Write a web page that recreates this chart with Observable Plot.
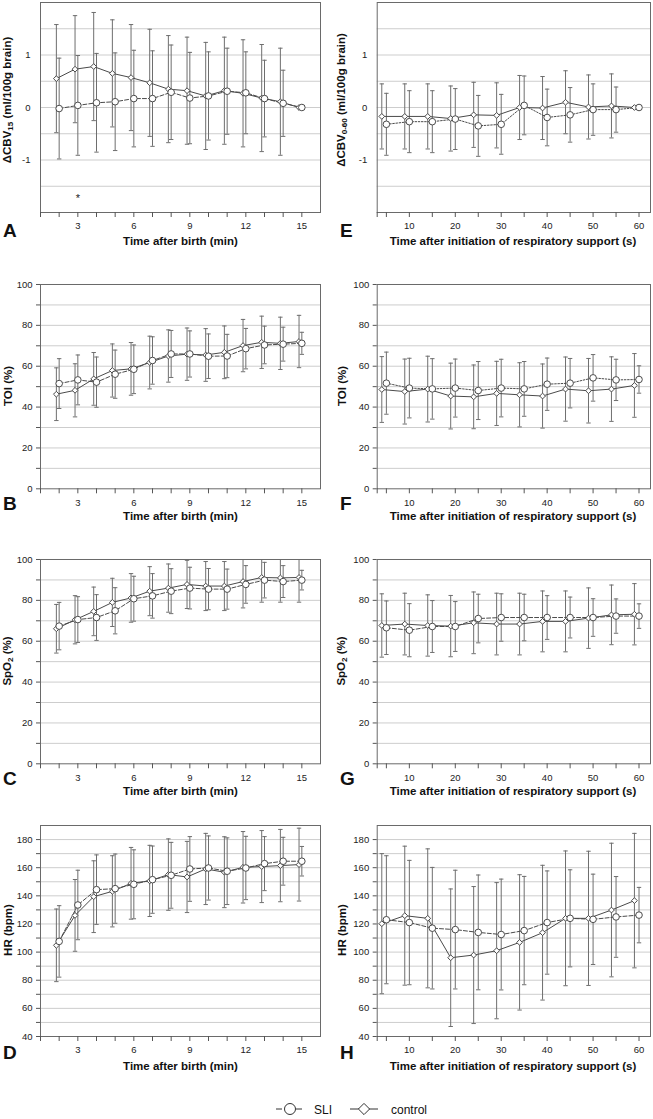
<!DOCTYPE html>
<html><head><meta charset="utf-8">
<script src="https://cdn.jsdelivr.net/npm/d3@7"></script>
<script src="https://cdn.jsdelivr.net/npm/@observablehq/plot@0.6"></script>
<style>
body{margin:0;background:#fff;font-family:"Liberation Sans",Arial,sans-serif;color:#111}
#root{position:relative;width:653px;height:1119px;overflow:hidden;background:#fff}
.panel{position:absolute}
.letter{position:absolute;font-weight:bold;font-size:19px;line-height:1}
.xt{position:absolute;font-weight:bold;font-size:11.5px;white-space:nowrap;transform:translate(-50%,-50%);line-height:1}
.yt{position:absolute;font-weight:bold;font-size:11.5px;white-space:nowrap;transform:translate(-50%,-50%) rotate(-90deg);line-height:1}
.yt sub{font-size:0.7em;vertical-align:-0.25em}
</style></head><body><div id="root"></div><script>
// ---------- data ----------
const minutes = [2,3,4,5,6,7,8,9,10,11,12,13,14,15];
const seconds = [5,10,15,20,25,30,35,40,45,50,55,60];
const minuteTicks = [1,2,3,4,5,6,7,8,9,10,11,12,13,14,15];
const minuteTickLabels = [3,6,9,12,15];
const secondTicks = [3,5,10,15,20,25,30,35,40,45,50,55,60];
const secondTickLabels = [10,20,30,40,50,60];
const cbvTickLabels = [-1,0,1];
const cbvGrid = [-1.5,-1,-0.5,0,0.5,1,1.5];
const pctTicks = [0,10,20,30,40,50,60,70,80,90,100];
const pctTickLabels = [0,20,40,60,80,100];
const pctGrid = [10,20,30,40,50,60,70,80,90];
const hrTicks = [40,50,60,70,80,90,100,110,120,130,140,150,160,170,180];
const hrTickLabels = [40,60,80,100,120,140,160,180];
const hrGrid = [50,60,70,80,90,100,110,120,130,140,150,160,170,180];

// A: ΔCBV15 vs minutes
const cbv15Control   = [0.55,0.73,0.78,0.65,0.57,0.47,0.35,0.32,0.22,0.32,0.27,0.18,0.11,0];
const cbv15ControlSD = [1.03,1.02,1.03,1.02,1.01,1.02,1.02,1.02,1.02,1.02,1.02,1.02,1.02,0];
const cbv15SLI       = [-0.02,0.04,0.09,0.11,0.17,0.17,0.29,0.18,0.22,0.31,0.28,0.17,0.08,0];
const cbv15SLISD     = [0.96,0.95,0.94,0.93,0.92,0.91,0.90,0.87,0.84,0.82,0.78,0.73,0.63,0];
const cbv15Significance = [{t: 3, value: -1.68, mark: "*"}];
// E: ΔCBV0-60 vs seconds
const cbv60Control   = [-0.17,-0.17,-0.17,-0.21,-0.14,-0.15,0.0,-0.01,0.10,0.01,0.03,0];
const cbv60ControlSD = [0.62,0.62,0.62,0.62,0.62,0.62,0.61,0.60,0.60,0.61,0.61,0];
const cbv60SLI       = [-0.32,-0.27,-0.27,-0.22,-0.35,-0.32,0.04,-0.19,-0.14,-0.04,-0.04,0];
const cbv60SLISD     = [0.59,0.59,0.59,0.58,0.58,0.57,0.56,0.54,0.52,0.49,0.43,0];
// B: TOI vs minutes
const toiMinControl   = [46.3,48.2,53.8,57.9,58.7,61.8,65.0,65.9,65.5,66.8,70.1,71.7,71.2,72.1];
const toiMinControlSD = [12.9,13.0,12.9,13.0,12.9,12.9,12.8,12.8,12.9,12.9,12.8,12.8,12.8,12.8];
const toiMinSLI       = [51.5,53.3,52.2,56.1,58.5,62.8,66.0,66.0,64.9,65.0,68.6,70.4,70.8,71.2];
const toiMinSLISD     = [12.2,12.2,12.3,11.8,11.9,11.6,11.5,11.3,10.9,10.6,9.9,9.2,8.3,5.4];
// F: TOI vs seconds
const toiSecControl   = [48.6,47.6,48.8,45.4,45.0,46.7,46.0,45.4,48.8,48.0,48.8,50.6];
const toiSecControlSD = [16.1,15.9,16.1,16.1,15.6,15.7,15.7,15.7,15.7,15.8,15.8,15.6];
const toiSecSLI       = [51.7,49.3,48.9,49.3,48.1,49.3,48.9,51.2,51.7,54.3,53.3,53.5];
const toiSecSLISD     = [15.2,14.6,14.8,14.2,14.2,14.1,13.4,12.8,12.1,11.4,10.1,6.7];
// C: SpO2 vs minutes
const spoMinControl   = [66.1,70.5,74.6,79.0,81.2,84.5,86.0,87.8,87.0,87.0,89.2,91.2,91.0,91.2];
const spoMinControlSD = [11.9,11.8,11.9,11.8,11.9,12.0,11.8,11.8,12.0,12.0,12.9,12.1,11.9,12.1];
const spoMinSLI       = [67.4,70.6,71.6,74.9,80.8,82.2,84.5,86.0,85.5,85.5,87.8,89.9,89.2,89.9];
const spoMinSLISD     = [11.6,11.2,11.2,11.3,11.0,10.9,11.0,10.2,10.1,9.8,9.2,8.7,7.8,4.8];
// G: SpO2 vs seconds
const spoSecControl   = [67.7,68.4,67.7,67.4,69.0,68.4,68.4,69.7,69.7,71.3,72.9,73.2];
const spoSecControlSD = [15.5,15.1,15.0,15.0,15.1,15.1,15.1,14.9,14.9,14.8,14.6,15.0];
const spoSecSLI       = [66.6,65.4,67.2,67.2,71.1,71.6,71.6,71.6,71.6,71.6,72.3,72.3];
const spoSecSLISD     = [13.1,13.0,12.7,12.2,11.9,11.6,11.4,10.7,10.0,9.2,8.4,6.0];
// D: HR vs minutes
const hrMinControl   = [104.8,126.1,139.4,143.2,148.9,150.6,155.1,153.4,159.1,156.8,160.3,160.8,161.5,162.2];
const hrMinControlSD = [25.8,25.5,25.5,25.3,25.5,25.3,25.4,25.3,25.3,25.2,25.4,25.6,25.7,25.9];
const hrMinSLI       = [107.6,133.5,144.4,145.1,148.2,151.5,154.6,159.1,159.8,157.5,159.8,162.9,164.6,164.6];
const hrMinSLISD     = [25.4,24.7,24.7,24.6,24.5,23.9,23.4,23.0,22.8,23.7,22.5,19.2,17.0,10.5];
// H: HR vs seconds
const hrSecControl   = [120.2,125.9,124.0,96.0,97.9,101.0,106.9,113.8,124.0,124.0,129.9,136.6];
const hrSecControlSD = [49.8,49.4,49.4,48.9,48.7,48.4,48.1,47.9,47.9,47.7,47.5,47.8];
const hrSecSLI       = [123.0,121.0,117.0,116.0,114.0,112.5,115.3,121.0,124.0,123.3,125.0,126.3];
const hrSecSLISD     = [45.5,44.2,43.2,42.2,40.8,39.4,38.5,36.7,34.5,32.1,28.7,19.7];

// ---------- drawing ----------
const root = document.getElementById("root");
const FONT = "'Liberation Sans', Arial, sans-serif";
const capSymbol = {draw(ctx){ ctx.moveTo(-2.2,0); ctx.lineTo(2.2,0); }};

const columns = {
  left:  {svgLeft: 0,   frameLeft: 40,    frameRight: 320, xDomain: [1, 16],    xTicks: minuteTicks, xLabels: minuteTickLabels, ctrlDx: -0.15,
          letterX: 3, titleX: 180.5, yTitleX: 8.5, xTitle: "Time after birth (min)"},
  right: {svgLeft: 326, frameLeft: 376.7, frameRight: 650, xDomain: [3, 62.5], xTicks: secondTicks, xLabels: secondTickLabels, ctrlDx: -1,
          letterX: 340, titleX: 513, yTitleX: 343, xTitle: "Time after initiation of respiratory support (s)"}
};
const rowsCfg = [
  {frameTop: 1.7, frameBottom: 211.7, letterY: 230.5, titleY: 241.7, yTitleY: 100},
  {frameTop: 284, frameBottom: 488.3, letterY: 504, titleY: 517, yTitleY: 386},
  {frameTop: 559, frameBottom: 763.3, letterY: 778.5, titleY: 792, yTitleY: 661},
  {frameTop: 825, frameBottom: 1036, letterY: 1052.5, titleY: 1066.5, yTitleY: 930}
];

function panel(p) {
  const col = columns[p.col], row = rowsCfg[p.row];
  const t = p.col === "left" ? minutes : seconds;
  const ctrl = p.control.map((v, i) => ({x: t[i] + col.ctrlDx, y: v, sd: p.controlSD[i]}));
  const sli = p.sli.map((v, i) => ({x: t[i], y: v, sd: p.sliSD[i]}));
  const bars = ctrl.concat(sli).filter(d => d.sd > 0);
  const top = row.frameTop - 12;
  const height = row.frameBottom - row.frameTop + 12 + 26;
  const width = p.col === "left" ? 326 : 327;
  const chart = Plot.plot({
    width, height,
    marginLeft: col.frameLeft - col.svgLeft,
    marginRight: col.svgLeft + width - col.frameRight,
    marginTop: 12, marginBottom: 26,
    x: {domain: col.xDomain},
    y: {domain: p.yDomain},
    style: {fontFamily: FONT, fontSize: "9.5px", color: "#222", background: "transparent", overflow: "visible"},
    marks: [
      Plot.gridY(p.grid, {stroke: "#cdcdcd", strokeOpacity: 1, strokeWidth: 1}),
      Plot.ruleX(bars, {x: "x", y1: d => d.y - d.sd, y2: d => d.y + d.sd, stroke: "#6e6e6e", strokeWidth: 1, clip: true}),
      Plot.dot(bars, {x: "x", y: d => d.y + d.sd, symbol: capSymbol, fill: "none", stroke: "#6e6e6e", strokeWidth: 1, clip: true}),
      Plot.dot(bars, {x: "x", y: d => d.y - d.sd, symbol: capSymbol, fill: "none", stroke: "#6e6e6e", strokeWidth: 1, clip: true}),
      Plot.line(ctrl, {x: "x", y: "y", stroke: "#4a4a4a", strokeWidth: 1}),
      Plot.line(sli, {x: "x", y: "y", stroke: "#4a4a4a", strokeWidth: 1, strokeDasharray: p.dash}),
      Plot.dot(ctrl, {x: "x", y: "y", symbol: "diamond2", r: 2.6, fill: "white", stroke: "#4a4a4a", strokeWidth: 1}),
      Plot.dot(sli, {x: "x", y: "y", r: 3.3, fill: "white", stroke: "#4a4a4a", strokeWidth: 1}),
      ...(p.annotations || []),
      Plot.frame({stroke: "#6a6a6a", strokeWidth: 1}),
      Plot.axisX(col.xTicks, {tickFormat: d => col.xLabels.includes(d) ? String(d) : "", tickSize: 5, tickPadding: 5, label: null, stroke: "#555", fill: "#222"}),
      Plot.axisY(p.yTicks, {tickFormat: d => p.yLabels.includes(d) ? String(d) : "", tickSize: p.yTickSize, tickPadding: p.yTickPadding, label: null, stroke: "#555", fill: "#222"})
    ]
  });
  chart.classList.add("panel");
  chart.style.left = col.svgLeft + "px";
  chart.style.top = top + "px";
  root.appendChild(chart);

  const letter = document.createElement("div");
  letter.className = "letter";
  letter.textContent = p.letter;
  letter.style.left = col.letterX + "px";
  letter.style.top = (row.letterY - 10) + "px";
  root.appendChild(letter);

  const xt = document.createElement("div");
  xt.className = "xt";
  xt.textContent = col.xTitle;
  xt.style.left = col.titleX + "px";
  xt.style.top = row.titleY + "px";
  root.appendChild(xt);

  const yt = document.createElement("div");
  yt.className = "yt";
  yt.innerHTML = p.yTitle;
  yt.style.left = col.yTitleX + "px";
  yt.style.top = row.yTitleY + "px";
  root.appendChild(yt);
}

const DASH = "4,2", DOT = "1.6,1.6";
panel({letter: "A", col: "left", row: 0, yDomain: [-2, 2], grid: cbvGrid, yTicks: cbvTickLabels, yLabels: cbvTickLabels, yTickSize: 0, yTickPadding: 10,
  control: cbv15Control, controlSD: cbv15ControlSD, sli: cbv15SLI, sliSD: cbv15SLISD, dash: DASH,
  yTitle: "ΔCBV<sub>15</sub> (ml/100g brain)",
  annotations: [Plot.text(cbv15Significance, {x: "t", y: "value", text: "mark", fontSize: 11, fill: "#222", dy: 3})]});
panel({letter: "E", col: "right", row: 0, yDomain: [-2, 2], grid: cbvGrid, yTicks: cbvTickLabels, yLabels: cbvTickLabels, yTickSize: 0, yTickPadding: 10,
  control: cbv60Control, controlSD: cbv60ControlSD, sli: cbv60SLI, sliSD: cbv60SLISD, dash: DOT,
  yTitle: "ΔCBV<sub>0-60</sub> (ml/100g brain)"});
panel({letter: "B", col: "left", row: 1, yDomain: [0, 100], grid: pctGrid, yTicks: pctTicks, yLabels: pctTickLabels, yTickSize: 4, yTickPadding: 4,
  control: toiMinControl, controlSD: toiMinControlSD, sli: toiMinSLI, sliSD: toiMinSLISD, dash: DASH, yTitle: "TOI (%)"});
panel({letter: "F", col: "right", row: 1, yDomain: [0, 100], grid: pctGrid, yTicks: pctTicks, yLabels: pctTickLabels, yTickSize: 4, yTickPadding: 4,
  control: toiSecControl, controlSD: toiSecControlSD, sli: toiSecSLI, sliSD: toiSecSLISD, dash: DOT, yTitle: "TOI (%)"});
panel({letter: "C", col: "left", row: 2, yDomain: [0, 100], grid: pctGrid, yTicks: pctTicks, yLabels: pctTickLabels, yTickSize: 4, yTickPadding: 4,
  control: spoMinControl, controlSD: spoMinControlSD, sli: spoMinSLI, sliSD: spoMinSLISD, dash: DASH, yTitle: "SpO<sub>2</sub> (%)"});
panel({letter: "G", col: "right", row: 2, yDomain: [0, 100], grid: pctGrid, yTicks: pctTicks, yLabels: pctTickLabels, yTickSize: 4, yTickPadding: 4,
  control: spoSecControl, controlSD: spoSecControlSD, sli: spoSecSLI, sliSD: spoSecSLISD, dash: DASH, yTitle: "SpO<sub>2</sub> (%)"});
panel({letter: "D", col: "left", row: 3, yDomain: [40, 190], grid: hrGrid, yTicks: hrTicks, yLabels: hrTickLabels, yTickSize: 4, yTickPadding: 4,
  control: hrMinControl, controlSD: hrMinControlSD, sli: hrMinSLI, sliSD: hrMinSLISD, dash: DASH, yTitle: "HR (bpm)"});
panel({letter: "H", col: "right", row: 3, yDomain: [40, 190], grid: hrGrid, yTicks: hrTicks, yLabels: hrTickLabels, yTickSize: 4, yTickPadding: 4,
  control: hrSecControl, controlSD: hrSecControlSD, sli: hrSecSLI, sliSD: hrSecSLISD, dash: DASH, yTitle: "HR (bpm)"});

// ---------- legend ----------
const legend = d3.create("svg").attr("width", 653).attr("height", 30)
  .style("position", "absolute").style("left", "0px").style("top", "1094px");
const ly = 15;
legend.append("line").attr("x1", 276).attr("x2", 304).attr("y1", ly).attr("y2", ly)
  .attr("stroke", "#333").attr("stroke-dasharray", "6,14").attr("stroke-dashoffset", 0);
legend.append("circle").attr("cx", 290).attr("cy", ly).attr("r", 5.5).attr("fill", "white").attr("stroke", "#333");
legend.append("text").attr("x", 314).attr("y", ly + 4.5).attr("font-size", 12).attr("font-family", FONT).attr("fill", "#111").text("SLI");
legend.append("line").attr("x1", 350).attr("x2", 378).attr("y1", ly).attr("y2", ly).attr("stroke", "#333");
legend.append("path").attr("d", d3.symbol(d3.symbolDiamond2, 80)()).attr("transform", `translate(364,${ly})`)
  .attr("fill", "white").attr("stroke", "#333");
legend.append("text").attr("x", 391).attr("y", ly + 4.5).attr("font-size", 12).attr("font-family", FONT).attr("fill", "#111").text("control");
root.appendChild(legend.node());
</script></body></html>
